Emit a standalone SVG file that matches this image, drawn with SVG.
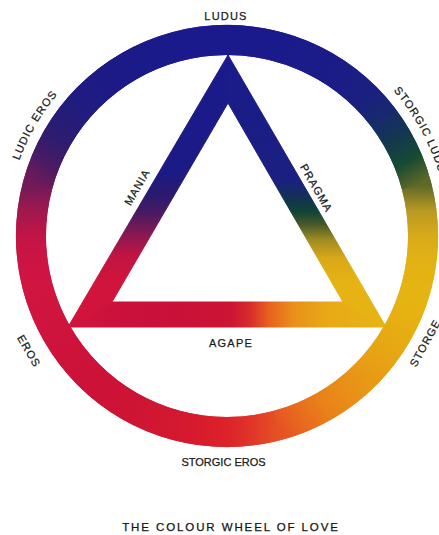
<svg xmlns="http://www.w3.org/2000/svg" width="439" height="535" viewBox="0 0 439 535">
<style>
.seg{fill:none;stroke-width:30;stroke-linecap:butt}
.lbl{font-family:"Liberation Sans",Arial,sans-serif;font-size:11px;fill:#1a1a1a;stroke:#1a1a1a;stroke-width:0.25px;letter-spacing:1px}
.title{font-family:"Liberation Sans",Arial,sans-serif;font-size:11.5px;fill:#141414;stroke:#141414;stroke-width:0.25px;letter-spacing:1.9px}
</style>
<defs>
<path id="upperCircle" d="M 227 457 A 221 221 0 1 1 227 15 A 221 221 0 1 1 227 457"/>
<linearGradient id="gA0" gradientUnits="userSpaceOnUse" x1="227" y1="40" x2="325" y2="66.26"><stop offset="0" stop-color="#1b1a8c"/><stop offset=".5" stop-color="#1b1a8c"/><stop offset=".75" stop-color="#1b1b8a"/><stop offset="1" stop-color="#1b1b88"/></linearGradient>
<linearGradient id="gA1" gradientUnits="userSpaceOnUse" x1="325" y1="66.26" x2="396.74" y2="138"><stop offset="0" stop-color="#1b1b88"/><stop offset=".25" stop-color="#1b1d85"/><stop offset=".5" stop-color="#1a2080"/><stop offset=".75" stop-color="#172a6c"/><stop offset="1" stop-color="#13384f"/></linearGradient>
<linearGradient id="gA2" gradientUnits="userSpaceOnUse" x1="396.74" y1="138" x2="423" y2="236"><stop offset="0" stop-color="#13384f"/><stop offset=".25" stop-color="#164a33"/><stop offset=".5" stop-color="#5e6828"/><stop offset=".75" stop-color="#b89a22"/><stop offset="1" stop-color="#d8aa1a"/></linearGradient>
<linearGradient id="gA3" gradientUnits="userSpaceOnUse" x1="423" y1="236" x2="396.74" y2="334"><stop offset="0" stop-color="#d8aa1a"/><stop offset=".25" stop-color="#e2b214"/><stop offset=".5" stop-color="#e5b412"/><stop offset=".75" stop-color="#e6b212"/><stop offset="1" stop-color="#e6ac12"/></linearGradient>
<linearGradient id="gA4" gradientUnits="userSpaceOnUse" x1="396.74" y1="334" x2="325" y2="405.74"><stop offset="0" stop-color="#e6ac12"/><stop offset=".25" stop-color="#e7a414"/><stop offset=".5" stop-color="#e89a16"/><stop offset=".75" stop-color="#e98e18"/><stop offset="1" stop-color="#e98218"/></linearGradient>
<linearGradient id="gA5" gradientUnits="userSpaceOnUse" x1="325" y1="405.74" x2="227" y2="432"><stop offset="0" stop-color="#e98218"/><stop offset=".25" stop-color="#e86c1e"/><stop offset=".5" stop-color="#e65224"/><stop offset=".75" stop-color="#e03628"/><stop offset="1" stop-color="#dc2229"/></linearGradient>
<linearGradient id="gA6" gradientUnits="userSpaceOnUse" x1="227" y1="432" x2="129" y2="405.74"><stop offset="0" stop-color="#dc2229"/><stop offset=".25" stop-color="#d81c2c"/><stop offset=".5" stop-color="#d41830"/><stop offset=".75" stop-color="#d01632"/><stop offset="1" stop-color="#ce1434"/></linearGradient>
<linearGradient id="gA7" gradientUnits="userSpaceOnUse" x1="129" y1="405.74" x2="57.26" y2="334"><stop offset="0" stop-color="#ce1434"/><stop offset=".25" stop-color="#cc1336"/><stop offset=".5" stop-color="#cc1238"/><stop offset=".75" stop-color="#cd133a"/><stop offset="1" stop-color="#ce143c"/></linearGradient>
<linearGradient id="gA8" gradientUnits="userSpaceOnUse" x1="57.26" y1="334" x2="31" y2="236"><stop offset="0" stop-color="#ce143c"/><stop offset=".25" stop-color="#cf143e"/><stop offset=".5" stop-color="#d01540"/><stop offset=".75" stop-color="#cc1444"/><stop offset="1" stop-color="#c21446"/></linearGradient>
<linearGradient id="gA9" gradientUnits="userSpaceOnUse" x1="31" y1="236" x2="57.26" y2="138"><stop offset="0" stop-color="#c21446"/><stop offset=".25" stop-color="#a0184e"/><stop offset=".5" stop-color="#701a58"/><stop offset=".75" stop-color="#481b64"/><stop offset="1" stop-color="#2e1c70"/></linearGradient>
<linearGradient id="gA10" gradientUnits="userSpaceOnUse" x1="57.26" y1="138" x2="129" y2="66.26"><stop offset="0" stop-color="#2e1c70"/><stop offset=".25" stop-color="#231c7a"/><stop offset=".5" stop-color="#1f1b82"/><stop offset=".75" stop-color="#1d1a86"/><stop offset="1" stop-color="#1c1a88"/></linearGradient>
<linearGradient id="gA11" gradientUnits="userSpaceOnUse" x1="129" y1="66.26" x2="227" y2="40"><stop offset="0" stop-color="#1c1a88"/><stop offset=".25" stop-color="#1b1a8a"/><stop offset="1" stop-color="#1b1a8c"/></linearGradient>
<linearGradient id="gB0" gradientUnits="userSpaceOnUse" x1="277.73" y1="46.68" x2="365.59" y2="97.41"><stop offset="0" stop-color="#1b1a8c"/><stop offset=".25" stop-color="#1b1b8a"/><stop offset=".5" stop-color="#1b1b88"/><stop offset=".75" stop-color="#1b1d85"/><stop offset="1" stop-color="#1a2080"/></linearGradient>
<linearGradient id="gB1" gradientUnits="userSpaceOnUse" x1="365.59" y1="97.41" x2="416.32" y2="185.27"><stop offset="0" stop-color="#1a2080"/><stop offset=".25" stop-color="#172a6c"/><stop offset=".5" stop-color="#13384f"/><stop offset=".75" stop-color="#164a33"/><stop offset="1" stop-color="#5e6828"/></linearGradient>
<linearGradient id="gB2" gradientUnits="userSpaceOnUse" x1="416.32" y1="185.27" x2="416.32" y2="286.73"><stop offset="0" stop-color="#5e6828"/><stop offset=".25" stop-color="#b89a22"/><stop offset=".5" stop-color="#d8aa1a"/><stop offset=".75" stop-color="#e2b214"/><stop offset="1" stop-color="#e5b412"/></linearGradient>
<linearGradient id="gB3" gradientUnits="userSpaceOnUse" x1="416.32" y1="286.73" x2="365.59" y2="374.59"><stop offset="0" stop-color="#e5b412"/><stop offset=".25" stop-color="#e6b212"/><stop offset=".5" stop-color="#e6ac12"/><stop offset=".75" stop-color="#e7a414"/><stop offset="1" stop-color="#e89a16"/></linearGradient>
<linearGradient id="gB4" gradientUnits="userSpaceOnUse" x1="365.59" y1="374.59" x2="277.73" y2="425.32"><stop offset="0" stop-color="#e89a16"/><stop offset=".25" stop-color="#e98e18"/><stop offset=".5" stop-color="#e98218"/><stop offset=".75" stop-color="#e86c1e"/><stop offset="1" stop-color="#e65224"/></linearGradient>
<linearGradient id="gB5" gradientUnits="userSpaceOnUse" x1="277.73" y1="425.32" x2="176.27" y2="425.32"><stop offset="0" stop-color="#e65224"/><stop offset=".25" stop-color="#e03628"/><stop offset=".5" stop-color="#dc2229"/><stop offset=".75" stop-color="#d81c2c"/><stop offset="1" stop-color="#d41830"/></linearGradient>
<linearGradient id="gB6" gradientUnits="userSpaceOnUse" x1="176.27" y1="425.32" x2="88.41" y2="374.59"><stop offset="0" stop-color="#d41830"/><stop offset=".25" stop-color="#d01632"/><stop offset=".5" stop-color="#ce1434"/><stop offset=".75" stop-color="#cc1336"/><stop offset="1" stop-color="#cc1238"/></linearGradient>
<linearGradient id="gB7" gradientUnits="userSpaceOnUse" x1="88.41" y1="374.59" x2="37.68" y2="286.73"><stop offset="0" stop-color="#cc1238"/><stop offset=".25" stop-color="#cd133a"/><stop offset=".5" stop-color="#ce143c"/><stop offset=".75" stop-color="#cf143e"/><stop offset="1" stop-color="#d01540"/></linearGradient>
<linearGradient id="gB8" gradientUnits="userSpaceOnUse" x1="37.68" y1="286.73" x2="37.68" y2="185.27"><stop offset="0" stop-color="#d01540"/><stop offset=".25" stop-color="#cc1444"/><stop offset=".5" stop-color="#c21446"/><stop offset=".75" stop-color="#a0184e"/><stop offset="1" stop-color="#701a58"/></linearGradient>
<linearGradient id="gB9" gradientUnits="userSpaceOnUse" x1="37.68" y1="185.27" x2="88.41" y2="97.41"><stop offset="0" stop-color="#701a58"/><stop offset=".25" stop-color="#481b64"/><stop offset=".5" stop-color="#2e1c70"/><stop offset=".75" stop-color="#231c7a"/><stop offset="1" stop-color="#1f1b82"/></linearGradient>
<linearGradient id="gB10" gradientUnits="userSpaceOnUse" x1="88.41" y1="97.41" x2="176.27" y2="46.68"><stop offset="0" stop-color="#1f1b82"/><stop offset=".25" stop-color="#1d1a86"/><stop offset=".5" stop-color="#1c1a88"/><stop offset=".75" stop-color="#1b1a8a"/><stop offset="1" stop-color="#1b1a8c"/></linearGradient>
<linearGradient id="triL" gradientUnits="userSpaceOnUse" x1="228" y1="55" x2="228" y2="327"><stop offset="0" stop-color="#1b1a8c"/><stop offset=".42" stop-color="#1b1a86"/><stop offset=".515" stop-color="#2a1a70"/><stop offset=".59" stop-color="#501a60"/><stop offset=".665" stop-color="#8c1850"/><stop offset=".735" stop-color="#c01444"/><stop offset=".83" stop-color="#d0143c"/><stop offset="1" stop-color="#d0143c"/></linearGradient>
<linearGradient id="triR" gradientUnits="userSpaceOnUse" x1="228" y1="55" x2="228" y2="327"><stop offset="0" stop-color="#1b1a8c"/><stop offset=".46" stop-color="#1a2080"/><stop offset=".533" stop-color="#12344e"/><stop offset=".577" stop-color="#104438"/><stop offset=".625" stop-color="#4a5a28"/><stop offset=".68" stop-color="#a08c22"/><stop offset=".746" stop-color="#d8a818"/><stop offset=".83" stop-color="#e6b214"/><stop offset="1" stop-color="#e6b414"/></linearGradient>
<linearGradient id="triB" gradientUnits="userSpaceOnUse" x1="68" y1="0" x2="386" y2="0"><stop offset="0" stop-color="#d0143e"/><stop offset=".26" stop-color="#c8103a"/><stop offset=".51" stop-color="#cc1434"/><stop offset=".57" stop-color="#d82a2c"/><stop offset=".635" stop-color="#e8641e"/><stop offset=".71" stop-color="#e8901a"/><stop offset=".82" stop-color="#e8aa16"/><stop offset="1" stop-color="#e6b414"/></linearGradient>
</defs>

<g id="triangle">
<polygon points="228,55 68,327 112,302 228,103" fill="url(#triL)" stroke="url(#triL)" stroke-width="1" stroke-linejoin="round"/>
<polygon points="228,55 386,327 343,302 228,103" fill="url(#triR)" stroke="url(#triR)" stroke-width="1" stroke-linejoin="round"/>
<polygon points="68,327 386,327 343,302 112,302" fill="url(#triB)" stroke="url(#triB)" stroke-width="1" stroke-linejoin="round"/>
</g>

<g id="wheel">
<path class="seg" stroke="url(#gA0)" d="M227 40 A196 196 0 0 1 325 66.26"/>
<path class="seg" stroke="url(#gA1)" d="M325 66.26 A196 196 0 0 1 396.74 138"/>
<path class="seg" stroke="url(#gA2)" d="M396.74 138 A196 196 0 0 1 423 236"/>
<path class="seg" stroke="url(#gA3)" d="M423 236 A196 196 0 0 1 396.74 334"/>
<path class="seg" stroke="url(#gA4)" d="M396.74 334 A196 196 0 0 1 325 405.74"/>
<path class="seg" stroke="url(#gA5)" d="M325 405.74 A196 196 0 0 1 227 432"/>
<path class="seg" stroke="url(#gA6)" d="M227 432 A196 196 0 0 1 129 405.74"/>
<path class="seg" stroke="url(#gA7)" d="M129 405.74 A196 196 0 0 1 57.26 334"/>
<path class="seg" stroke="url(#gA8)" d="M57.26 334 A196 196 0 0 1 31 236"/>
<path class="seg" stroke="url(#gA9)" d="M31 236 A196 196 0 0 1 57.26 138"/>
<path class="seg" stroke="url(#gA10)" d="M57.26 138 A196 196 0 0 1 129 66.26"/>
<path class="seg" stroke="url(#gA11)" d="M129 66.26 A196 196 0 0 1 227 40"/>
<path class="seg" stroke="url(#gB0)" d="M277.73 46.68 A196 196 0 0 1 365.59 97.41"/>
<path class="seg" stroke="url(#gB1)" d="M365.59 97.41 A196 196 0 0 1 416.32 185.27"/>
<path class="seg" stroke="url(#gB2)" d="M416.32 185.27 A196 196 0 0 1 416.32 286.73"/>
<path class="seg" stroke="url(#gB3)" d="M416.32 286.73 A196 196 0 0 1 365.59 374.59"/>
<path class="seg" stroke="url(#gB4)" d="M365.59 374.59 A196 196 0 0 1 277.73 425.32"/>
<path class="seg" stroke="url(#gB5)" d="M277.73 425.32 A196 196 0 0 1 176.27 425.32"/>
<path class="seg" stroke="url(#gB6)" d="M176.27 425.32 A196 196 0 0 1 88.41 374.59"/>
<path class="seg" stroke="url(#gB7)" d="M88.41 374.59 A196 196 0 0 1 37.68 286.73"/>
<path class="seg" stroke="url(#gB8)" d="M37.68 286.73 A196 196 0 0 1 37.68 185.27"/>
<path class="seg" stroke="url(#gB9)" d="M37.68 185.27 A196 196 0 0 1 88.41 97.41"/>
<path class="seg" stroke="url(#gB10)" d="M88.41 97.41 A196 196 0 0 1 176.27 46.68"/>
<path class="seg" stroke="#1b1a8c" d="M176.27 46.68 A196 196 0 0 1 277.73 46.68"/>
</g>

<g id="label-ludus"><text class="lbl" x="226" y="20" text-anchor="middle" style="letter-spacing:1.2px">LUDUS</text></g>
<g id="label-ludic-eros"><text class="lbl" text-anchor="middle"><textPath href="#upperCircle" startOffset="33.33%">LUDIC EROS</textPath></text></g>
<g id="label-storgic-ludus"><text class="lbl" text-anchor="middle"><textPath href="#upperCircle" startOffset="67.3%">STORGIC LUDUS</textPath></text></g>
<g id="label-eros"><text class="lbl" text-anchor="middle" dy="0.36em" transform="translate(29 351) rotate(60)">EROS</text></g>
<g id="label-storge"><text class="lbl" text-anchor="middle" dy="0.36em" transform="translate(425 343) rotate(-61.6)">STORGE</text></g>
<g id="label-storgic-eros"><text class="lbl" x="223.5" y="466" text-anchor="middle" style="letter-spacing:0px">STORGIC EROS</text></g>
<g id="label-mania"><text class="lbl" text-anchor="middle" dy="0.36em" transform="translate(137 187) rotate(-60)">MANIA</text></g>
<g id="label-pragma"><text class="lbl" text-anchor="middle" dy="0.36em" transform="translate(316.5 188) rotate(60)">PRAGMA</text></g>
<g id="label-agape"><text class="lbl" x="231" y="347" text-anchor="middle" style="letter-spacing:1.2px">AGAPE</text></g>
<g id="title"><text class="title" x="231" y="531" text-anchor="middle">THE COLOUR WHEEL OF LOVE</text></g>
</svg>
